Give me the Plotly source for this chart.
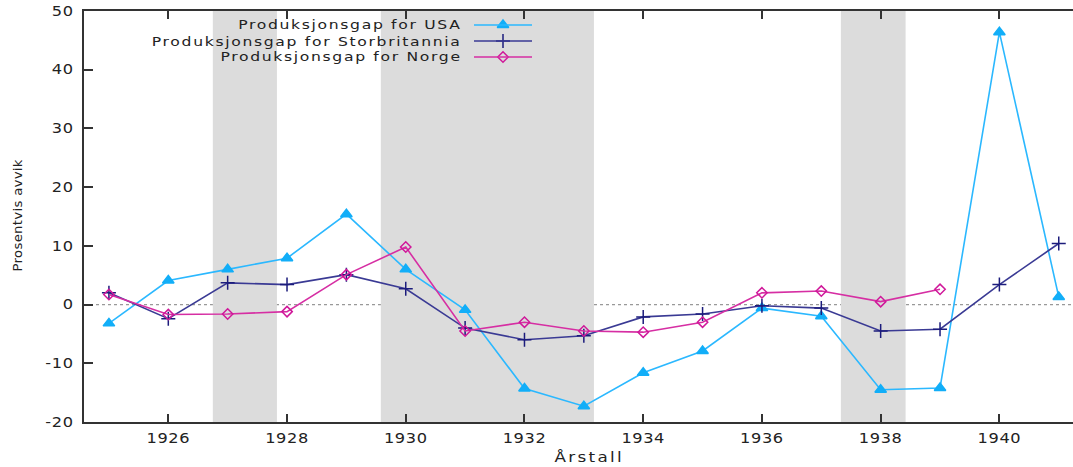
import plotly.graph_objects as go

years = list(range(1925, 1942))
usa = [-3.2, 4.1, 6.0, 7.9, 15.4, 6.0, -0.9, -14.3, -17.3, -11.6, -7.9, -0.6, -2.0, -14.5, -14.2, 46.4, 1.3]
uk = [2.0, -2.4, 3.7, 3.4, 5.1, 2.7, -4.0, -6.0, -5.3, -2.1, -1.6, -0.2, -0.6, -4.5, -4.2, 3.4, 10.4]
norway_years = list(range(1925, 1940))
norway = [1.7, -1.7, -1.6, -1.2, 5.1, 9.8, -4.5, -3.0, -4.5, -4.7, -3.0, 2.0, 2.3, 0.5, 2.6]

recessions = [(1926.75, 1927.83), (1929.58, 1933.17), (1937.33, 1938.42)]

y_tick_vals = [-20, -10, 0, 10, 20, 30, 40, 50]
y_tick_labels = ["-20", "-10", "0", "10", "20", "30", "40", "50"]
x_tick_vals = [1926, 1928, 1930, 1932, 1934, 1936, 1938, 1940]
x_tick_labels = ["1926", "1928", "1930", "1932", "1934", "1936", "1938", "1940"]

names = ["Produksjonsgap for USA", "Produksjonsgap for Storbritannia", "Produksjonsgap for Norge"]
line_colors = ["#2bb8ff", "#3a3a94", "#d62ea3"]
marker_colors = ["#12aef8", "#1c1c7c", "#d0189a"]
symbols = ["triangle-up", "cross-thin", "diamond-open"]
msizes = [10, 10, 8]

FONT = "DejaVu Sans"
TXT = "#222"
W, H = 1073, 467
ML, MR, MT, MB = 84, 0, 11, 45

fig = go.Figure()

series = [(years, usa), (years, uk), (norway_years, norway)]
for (xs, ys), n, lc, mc, s, ms in zip(series, names, line_colors, marker_colors, symbols, msizes):
    fig.add_trace(go.Scatter(
        x=xs, y=ys, mode="lines+markers", name=n,
        line=dict(color=lc, width=1.6),
        marker=dict(symbol=s, size=ms, color=mc, line=dict(color=mc, width=1.5)),
        showlegend=False,
    ))

# custom legend (text right-aligned, key on the right)
pw = W - ML - MR
ph = H - MT - MB
leg_text_right = (464 - ML) / pw
key_x0 = (474 - ML) / pw
key_x1 = (532 - ML) / pw
row_px = [25, 41, 57]
shapes = []
annotations = []
for i, (n, lc, mc, s, ms) in enumerate(zip(names, line_colors, marker_colors, symbols, msizes)):
    yp = 1 - (row_px[i] - MT) / ph
    annotations.append(dict(
        x=leg_text_right, y=yp, xref="paper", yref="paper", text=n,
        showarrow=False, xanchor="right", yanchor="middle", align="right",
        font=dict(family=FONT, size=13, color=TXT)))
    shapes.append(dict(type="line", xref="paper", yref="paper",
                       x0=key_x0, x1=key_x1, y0=yp, y1=yp,
                       line=dict(color=lc, width=1.6), layer="above"))
    fig.add_trace(go.Scatter(
        x=[(key_x0 + key_x1) / 2], y=[yp], xaxis="x2", yaxis="y2",
        mode="markers", showlegend=False, hoverinfo="skip",
        marker=dict(symbol=s, size=ms, color=mc, line=dict(color=mc, width=1.5))))

# zero line (dotted), beneath shading
shapes.insert(0, dict(type="line", xref="paper", yref="y", x0=0, x1=1, y0=0, y1=0,
                      line=dict(color="#999999", width=1.3, dash="dot"), layer="below"))
for a, b in recessions:
    shapes.insert(1, dict(type="rect", xref="x", yref="paper", x0=a, x1=b, y0=0, y1=1,
                          fillcolor="#dcdcdc", line=dict(width=0), layer="below"))

annotations.append(dict(x=(589 - ML) / pw, y=-(457 - (MT + ph)) / ph,
                        xref="paper", yref="paper", text="Årstall", showarrow=False,
                        xanchor="center", yanchor="middle",
                        font=dict(family=FONT, size=14, color=TXT)))
annotations.append(dict(x=-(ML - 18) / pw, y=1 - (216 - MT) / ph, xref="paper", yref="paper",
                        text="Prosentvis avvik", showarrow=False, textangle=-90,
                        xanchor="center", yanchor="middle",
                        font=dict(family=FONT, size=12, color=TXT)))

fig.update_layout(
    width=W, height=H,
    margin=dict(l=ML, r=MR, t=MT, b=MB),
    paper_bgcolor="white", plot_bgcolor="white",
    font=dict(family=FONT, size=13.5, color=TXT),
    shapes=shapes, annotations=annotations,
    xaxis=dict(range=[1924.58, 1941.24], tickmode="array", tickvals=x_tick_vals, ticktext=x_tick_labels,
               ticks="inside", ticklen=8, tickwidth=1.5, tickcolor="#333",
               showline=True, linecolor="#333", linewidth=1.5, mirror="ticks",
               showgrid=False, zeroline=False, tickfont=dict(family=FONT, size=13.5, color=TXT),
               ticklabelstandoff=3),
    yaxis=dict(range=[-20, 50], tickmode="array", tickvals=y_tick_vals, ticktext=y_tick_labels,
               ticks="inside", ticklen=9, tickwidth=1.5, tickcolor="#333",
               showline=True, linecolor="#333", linewidth=1.5, mirror=False,
               showgrid=False, zeroline=False, tickfont=dict(family=FONT, size=13.5, color=TXT),
               ticklabelstandoff=6),
    xaxis2=dict(range=[0, 1], overlaying="x", visible=False, fixedrange=True),
    yaxis2=dict(range=[0, 1], overlaying="y", visible=False, fixedrange=True),
    showlegend=False,
)

# the reference renders its text horizontally stretched and widely spaced
js = """
(function(){
  function stretch(t, sx, sp){
    var cur = t.getAttribute('transform') || '';
    if (t.getAttribute('data-done') === cur && cur !== '') return;
    t.style.letterSpacing = sp + 'px';
    var bb = t.getBBox();
    var anchor = t.getAttribute('text-anchor') || window.getComputedStyle(t).textAnchor || 'start';
    var ax = anchor === 'end' ? bb.x + bb.width : (anchor === 'middle' ? bb.x + bb.width / 2 : bb.x);
    var tr = cur + ' translate(' + ax + ',0) scale(' + sx + ',1) translate(' + (-ax) + ',0)';
    t.setAttribute('transform', tr);
    t.setAttribute('data-done', tr);
  }
  function spread(){
    var gd = document.getElementById('{plot_id}');
    if(!gd) return;
    gd.querySelectorAll('.xtick text, .ytick text').forEach(function(t){ stretch(t, 1.2, 0.5); });
    gd.querySelectorAll('.annotation-text').forEach(function(t){
      var s = t.textContent;
      if(s === 'Prosentvis avvik'){ stretch(t, 1.1, 0.3); }
      else if(s === 'Årstall'){ stretch(t, 1.2, 1.9); }
      else { stretch(t, 1.2, 1.4); }
    });
  }
  spread();
  setTimeout(spread, 50);
  setTimeout(spread, 300);
  var gd = document.getElementById('{plot_id}');
  if(gd && gd.on){ gd.on('plotly_afterplot', function(){ setTimeout(spread, 0); }); }
})();
"""

fig.write_html("out.html", post_script=js)
